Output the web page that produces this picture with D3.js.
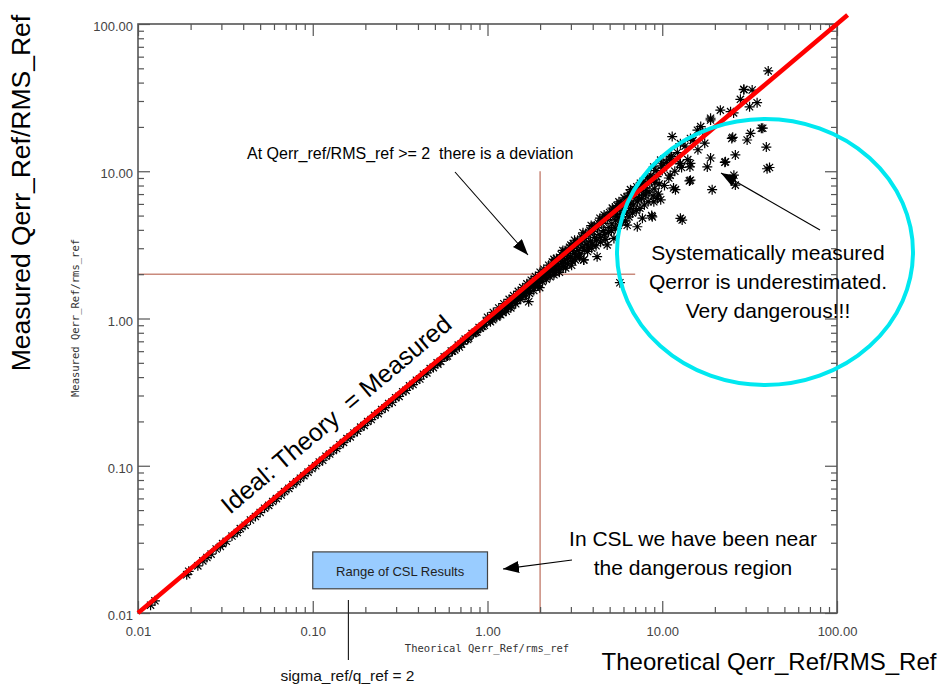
<!DOCTYPE html>
<html>
<head>
<meta charset="utf-8">
<script src="https://cdn.jsdelivr.net/npm/d3@7"></script>
<style>
  body { margin: 0; background: #fff; }
  svg { display: block; }
</style>
</head>
<body>
<svg id="chart"></svg>
<script>
// Points: [theoretical, measured]
const lowPoints = [
  [0.0118,0.0113],[0.0125,0.0121],[0.019,0.0182],[0.0195,0.0192],[0.022,0.0209],[0.0235,0.0226],
  [0.0248,0.0238],[0.0262,0.0251],[0.028,0.0272],[0.0296,0.0283],[0.0305,0.0296],[0.032,0.0307],
  [0.0345,0.0333],[0.037,0.0352],[0.0385,0.0374],[0.041,0.0395],[0.044,0.0428],[0.047,0.0452],
  [0.05,0.0482],[0.053,0.0515],[0.056,0.0538],[0.059,0.0572],[0.062,0.0598],[0.066,0.0633],
  [0.069,0.0668],[0.073,0.0702],[0.077,0.0745],[0.081,0.0778],[0.085,0.0823],[0.089,0.0856],
  [0.094,0.0905],[0.099,0.0958]
];
const midPoints = [
  [0.104,0.1],[0.109,0.106],[0.114,0.109],[0.119,0.116],[0.125,0.12],[0.131,0.127],[0.137,0.131],
  [0.143,0.139],[0.15,0.144],[0.157,0.153],[0.164,0.157],[0.172,0.167],[0.18,0.172],[0.188,0.183],
  [0.197,0.188],[0.206,0.2],[0.216,0.206],[0.226,0.22],[0.237,0.226],[0.248,0.241],[0.26,0.248],
  [0.272,0.265],[0.285,0.27],[0.298,0.29],[0.312,0.296],[0.327,0.318],[0.342,0.325],[0.358,0.349],
  [0.375,0.356],[0.392,0.381],[0.41,0.388],[0.43,0.418],[0.45,0.427],[0.47,0.457],[0.49,0.464],
  [0.515,0.5],[0.54,0.511],[0.565,0.549],[0.59,0.556],[0.62,0.602],[0.65,0.612],[0.68,0.66],
  [0.71,0.67],[0.745,0.725],[0.78,0.735],[0.815,0.792],[0.855,0.805],[0.895,0.87],[0.94,0.884],
  [0.985,0.958],
  [0.52,0.49],[0.58,0.55],[0.63,0.6],[0.69,0.64],[0.73,0.7],[0.77,0.72],[0.83,0.79],[0.87,0.81],
  [0.91,0.86],[0.96,0.9]
];
const bandPoints = [
  [1.02,0.97],[1.05,1.01],[1.07,0.98],[1.1,1.06],[1.12,1.04],[1.15,1.08],[1.17,1.07],[1.2,1.13],
  [1.22,1.1],[1.25,1.19],[1.27,1.16],[1.3,1.24],[1.32,1.2],[1.35,1.29],[1.37,1.22],[1.4,1.35],
  [1.43,1.31],[1.46,1.39],[1.48,1.33],[1.51,1.46],[1.54,1.41],[1.57,1.5],[1.6,1.44],[1.63,1.58],
  [1.66,1.52],[1.7,1.62],[1.72,1.3],[1.73,1.55],[1.76,1.7],[1.8,1.64],[1.83,1.79],[1.86,1.68],
  [1.9,1.82],[1.93,1.75],[1.97,1.9],[1.99,1.62],
  [1.0,1.02],[1.04,0.95],[1.08,1.1],[1.13,1.02],[1.16,1.18],[1.19,1.06],[1.24,1.26],[1.28,1.12],
  [1.33,1.35],[1.36,1.18],[1.41,1.43],[1.45,1.26],[1.5,1.53],[1.55,1.35],[1.59,1.62],[1.64,1.42],
  [1.68,1.72],[1.74,1.48],[1.78,1.82],[1.84,1.55],[1.88,1.93],[1.95,1.66],
  [2.02,1.86],[2.05,1.98],[2.08,1.9],[2.12,2.06],[2.15,1.95],[2.19,2.12],[2.22,2.0],[2.26,2.2],
  [2.3,2.08],[2.33,2.27],[2.37,2.12],[2.4,1.98],[2.4,2.52],[2.42,2.36],[2.46,2.2],[2.5,2.42],
  [2.54,2.28],[2.58,2.06],[2.62,2.55],[2.66,2.38],[2.7,2.62],[2.75,2.45],[2.8,2.2],[2.84,2.76],
  [2.88,2.55],[2.93,2.85],[2.98,2.62],[3.0,3.15],[3.03,2.3],[3.08,2.98],[3.13,2.78],[3.18,2.5],
  [3.24,3.15],[3.3,2.9],[3.36,2.62],[3.42,3.3],[3.48,3.05],[3.55,2.5],[3.56,2.5],[3.6,3.5],
  [3.67,3.2],[3.74,2.85],[3.8,3.7],[3.88,3.35],[3.95,3.0],[4.0,4.2],[4.02,3.9],[4.1,3.55],
  [4.18,3.12],[4.24,2.63],[4.26,4.12],[4.35,3.72],[4.44,3.3],[4.52,4.42],[4.62,3.95],[4.72,3.45],
  [4.84,3.16],[4.85,4.7],[4.95,4.15],
  [2.0,2.06],[2.06,1.78],[2.1,2.16],[2.17,1.85],[2.24,2.3],[2.28,1.92],[2.35,2.42],[2.44,2.05],
  [2.48,2.56],[2.56,2.15],[2.64,2.72],[2.72,2.25],[2.78,2.88],[2.86,2.35],[2.95,3.05],[3.05,2.45],
  [3.1,3.22],[3.2,2.65],[3.28,3.4],[3.38,2.75],[3.46,3.58],[3.58,2.9],[3.65,3.78],[3.78,3.05],
  [3.85,3.98],[3.98,3.2],[4.08,4.25],[4.2,3.4],[4.3,4.45],[4.42,3.55],[4.55,4.72],[4.68,3.7],
  [4.78,4.95],[4.92,3.85],
  [2.7,2.9],[3.15,3.4],[3.52,3.82],[3.92,4.28],[4.4,4.8],[4.65,5.05],[5.18,5.62],[5.65,6.2],
  [6.05,6.6],[6.5,7.1],[7.15,7.85],[7.75,8.5],[8.25,9.05],[9.2,10.1],[10.2,11.2],[11.0,12.1],
  [5.05,4.95],[5.15,4.4],[5.29,3.5],[5.3,5.2],[5.42,4.65],[5.5,5.85],[5.55,5.45],[5.68,4.85],
  [5.72,1.75],[5.8,5.75],[5.95,5.1],[6.1,6.0],[6.25,5.3],[6.3,4.3],[6.4,6.3],[6.55,5.6],
  [6.58,7.5],[6.7,6.65],[6.85,5.9],[6.9,7.35],[7.0,6.95],[7.2,4.2],[7.2,6.2],[7.4,7.3],
  [7.5,8.3],[7.6,6.5],[7.7,4.8],[7.8,7.75],[7.84,6.9],[8.0,6.9],[8.2,8.2],[8.4,7.2],[8.5,9.0],
  [8.7,5.0],[8.7,8.6],[8.77,4.9],[8.94,10.7],[8.95,6.2],[9.0,7.6],[9.3,9.2],[9.37,6.55],
  [9.6,8.2],[9.79,11.9],[9.8,6.4],[10.0,10.1],
  [5.0,5.25],[5.12,3.95],[5.25,5.5],[5.38,4.1],[5.5,4.95],[5.6,4.3],[5.75,6.05],[5.88,4.5],
  [6.0,5.4],[6.15,4.6],[6.3,6.7],[6.45,4.9],[6.6,6.0],[6.75,5.2],[6.95,7.5],[7.1,5.4],[7.3,6.6],
  [7.45,5.6],[7.65,8.2],[7.9,5.9],[8.1,7.4],[8.3,6.2],[8.6,9.4],[8.85,6.8],[9.1,8.4],[9.5,7.0],
  [9.9,10.9],[10.3,8.0],[10.6,11.5],[10.9,9.0],[11.3,12.6],[11.8,10.0],[12.2,13.4],[12.9,10.6],
  [13.5,14.8],[14.0,12.0],[15.0,16.2],[16.0,14.0],[17.0,18.6],[17.5,15.5]
];
const outlierPoints = [
  [11.1,12.5],[11.1,9.4],[11.4,17.2],[11.6,7.7],[11.9,7.5],[12.6,11.2],[12.7,15.4],[12.7,11.3],
  [12.7,4.79],[13.0,4.66],[14.3,8.6],[14.4,10.7],[14.5,16.7],[14.5,11.3],[14.5,8.7],[15.9,19.0],
  [16.6,20.1],[18.1,10.7],[18.9,22.3],[18.9,22.9],[18.9,12.3],[19.3,7.5],[21.5,26.0],
  [22.8,11.5],[23.0,11.6],[24.6,25.4],[25.0,16.7],[25.3,17.0],[25.6,24.9],[25.7,9.4],[26.2,12.9],
  [26.2,8.05],[28.0,30.8],[29.3,36.0],[29.3,35.8],[30.6,16.3],[31.6,27.4],[32.0,18.1],
  [32.7,35.6],[34.9,29.2],[36.9,19.6],[37.6,19.6],[39.4,14.6],[39.8,10.4],[40.4,48.0],[41.1,10.6]
];
const scatter = lowPoints.concat(midPoints, bandPoints, outlierPoints);

// Axis ticks and reference lines
const decadeTicks = [0.01, 0.1, 1, 10, 100];
const idealLine = [0.01, 115];
const threshold = 2;               // Qerr_ref/RMS_ref >= 2
const thresholdExtent = { vertical: [0.01, 10], horizontal: [0.01, 7] };
const cslRangeX = [0.1, 1];
const cslRangeY = [0.0146, 0.026];
const sigmaMarkX = 0.16;

const width = 941, height = 688;
const plot = { left: 138, right: 837, top: 24, bottom: 613 };
const font = "'Liberation Sans', Arial, Helvetica, sans-serif";

const svg = d3.select("#chart")
  .attr("width", width)
  .attr("height", height)
  .style("background", "#fff");

const x = d3.scaleLog().domain([0.01, 100]).range([plot.left, plot.right]);
const y = d3.scaleLog().domain([0.01, 100]).range([plot.bottom, plot.top]);

const isDecade = v => Math.abs(Math.log10(v) - Math.round(Math.log10(v))) < 1e-6;
const minorTicks = x.ticks().filter(v => !isDecade(v));
const fmt = d3.format(".2f");

// arrow head
svg.append("defs").append("marker")
  .attr("id", "head")
  .attr("viewBox", "0 0 16 12")
  .attr("refX", 16).attr("refY", 6)
  .attr("markerWidth", 16).attr("markerHeight", 12)
  .attr("markerUnits", "userSpaceOnUse")
  .attr("orient", "auto")
  .append("path")
  .attr("d", "M0,0L16,6L0,12Z")
  .attr("fill", "#000");

// threshold lines at 2
svg.append("line")
  .attr("x1", x(threshold)).attr("x2", x(threshold))
  .attr("y1", y(thresholdExtent.vertical[0])).attr("y2", y(thresholdExtent.vertical[1]))
  .attr("stroke", "#c98a7c").attr("stroke-width", 1.5);
svg.append("line")
  .attr("x1", x(thresholdExtent.horizontal[0])).attr("x2", x(thresholdExtent.horizontal[1]))
  .attr("y1", y(threshold)).attr("y2", y(threshold))
  .attr("stroke", "#c98a7c").attr("stroke-width", 1.5);

// axes: minor and major ticks drawn inward on all four sides
function styleAxis(g) {
  g.select(".domain").remove();
  g.selectAll(".tick line").attr("stroke", "#555").attr("stroke-width", 1.2);
  g.selectAll(".tick text")
    .style("font-family", font)
    .style("font-size", "13px")
    .attr("fill", "#444");
}
const axes = [
  [d3.axisBottom(x), `translate(0,${plot.bottom})`],
  [d3.axisTop(x), `translate(0,${plot.top})`],
  [d3.axisLeft(y), `translate(${plot.left},0)`],
  [d3.axisRight(y), `translate(${plot.right},0)`]
];
axes.forEach(([axis, tr], i) => {
  svg.append("g").attr("transform", tr)
    .call(axis.tickValues(minorTicks).tickSize(-6).tickSizeOuter(0).tickFormat(""))
    .call(styleAxis);
  const major = axis.tickValues(decadeTicks).tickSize(-12).tickSizeOuter(0);
  if (i === 0) major.tickPadding(14).tickFormat(fmt);
  else if (i === 2) major.tickPadding(5).tickFormat(fmt);
  else major.tickFormat("");
  const g = svg.append("g").attr("transform", tr).call(major).call(styleAxis);
  if (i === 2) g.selectAll(".tick text").attr("dy", "0.5em");
});

svg.append("rect")
  .attr("x", plot.left).attr("y", plot.top)
  .attr("width", plot.right - plot.left).attr("height", plot.bottom - plot.top)
  .attr("fill", "none").attr("stroke", "#555").attr("stroke-width", 1.6);

// scatter of asterisks
const r = 5, d = 3.6;
const star = `M${-r},0L${r},0M0,${-r}L0,${r}M${-d},${-d}L${d},${d}M${-d},${d}L${d},${-d}`;
svg.append("g")
  .selectAll("path")
  .data(scatter)
  .join("path")
  .attr("transform", p => `translate(${x(p[0])},${y(p[1])})`)
  .attr("d", star)
  .attr("fill", "none")
  .attr("stroke", "#000")
  .attr("stroke-width", 1.2);

// ideal line theory = measured
svg.append("path")
  .datum(idealLine)
  .attr("d", d3.line().x(v => x(v)).y(v => y(v)))
  .attr("stroke", "#ff0000")
  .attr("stroke-width", 4.5)
  .attr("fill", "none");

// danger region
svg.append("ellipse")
  .attr("cx", 765).attr("cy", 252)
  .attr("rx", 148).attr("ry", 133)
  .attr("fill", "none")
  .attr("stroke", "#00e8f0")
  .attr("stroke-width", 4);

// CSL range box
svg.append("rect")
  .attr("x", x(cslRangeX[0])).attr("y", y(cslRangeY[1]))
  .attr("width", x(cslRangeX[1]) - x(cslRangeX[0]))
  .attr("height", y(cslRangeY[0]) - y(cslRangeY[1]))
  .attr("fill", "#99ccff")
  .attr("stroke", "#444")
  .attr("stroke-width", 1.2);
svg.append("text")
  .attr("x", (x(cslRangeX[0]) + x(cslRangeX[1])) / 2)
  .attr("y", 576)
  .attr("text-anchor", "middle")
  .style("font-family", font).style("font-size", "13px")
  .attr("fill", "#222")
  .text("Range of CSL Results");

// sigma marker
svg.append("line")
  .attr("x1", x(sigmaMarkX)).attr("x2", x(sigmaMarkX))
  .attr("y1", 600).attr("y2", 660)
  .attr("stroke", "#222").attr("stroke-width", 1.2);
svg.append("text")
  .attr("x", x(sigmaMarkX) - 1).attr("y", 681)
  .attr("text-anchor", "middle")
  .style("font-family", font).style("font-size", "15.5px")
  .attr("fill", "#111")
  .text("sigma_ref/q_ref = 2");

// arrows
const arrows = [
  [455, 172, 528, 255],
  [820, 230, 721, 173],
  [572, 560, 503, 569]
];
svg.append("g").selectAll("line")
  .data(arrows)
  .join("line")
  .attr("x1", a => a[0]).attr("y1", a => a[1])
  .attr("x2", a => a[2]).attr("y2", a => a[3])
  .attr("stroke", "#000").attr("stroke-width", 1.1)
  .attr("marker-end", "url(#head)");

// annotations
function label(tx, ty, str, size, anchor = "start") {
  return svg.append("text")
    .attr("x", tx).attr("y", ty)
    .attr("text-anchor", anchor)
    .style("font-family", font)
    .style("font-size", size + "px")
    .style("white-space", "pre")
    .attr("fill", "#000")
    .text(str);
}
label(247, 159, "At Qerr_ref/RMS_ref >= 2  there is a deviation", 16);
label(768, 260, "Systematically measured", 21, "middle");
label(768, 289, "Qerror is underestimated.", 21, "middle");
label(768, 318, "Very dangerous!!!", 21, "middle");
label(693, 546, "In CSL we have been near", 21, "middle");
label(693, 575, "the dangerous region", 21, "middle");

const slope = Math.atan((y(0.01) - y(100)) / (x(100) - x(0.01))) * 180 / Math.PI;
label(0, 0, "Ideal: Theory  = Measured", 25)
  .attr("transform", `translate(230,515) rotate(${-slope})`);

// axis titles
label(769, 670, "Theoretical Qerr_Ref/RMS_Ref", 24, "middle");
label(0, 0, "Measured Qerr_Ref/RMS_Ref", 26.5, "middle")
  .attr("transform", "translate(30,193) rotate(-90)");

svg.append("text")
  .attr("x", 487).attr("y", 652)
  .attr("text-anchor", "middle")
  .style("font-family", "'DejaVu Sans Mono', monospace")
  .style("font-size", "10.5px")
  .attr("fill", "#333")
  .text("Theorical Qerr_Ref/rms_ref");
svg.append("text")
  .attr("transform", "translate(79,318) rotate(-90)")
  .attr("text-anchor", "middle")
  .style("font-family", "'DejaVu Sans Mono', monospace")
  .style("font-size", "10.5px")
  .attr("fill", "#333")
  .text("Measured Qerr_Ref/rms_ref");
</script>
</body>
</html>
